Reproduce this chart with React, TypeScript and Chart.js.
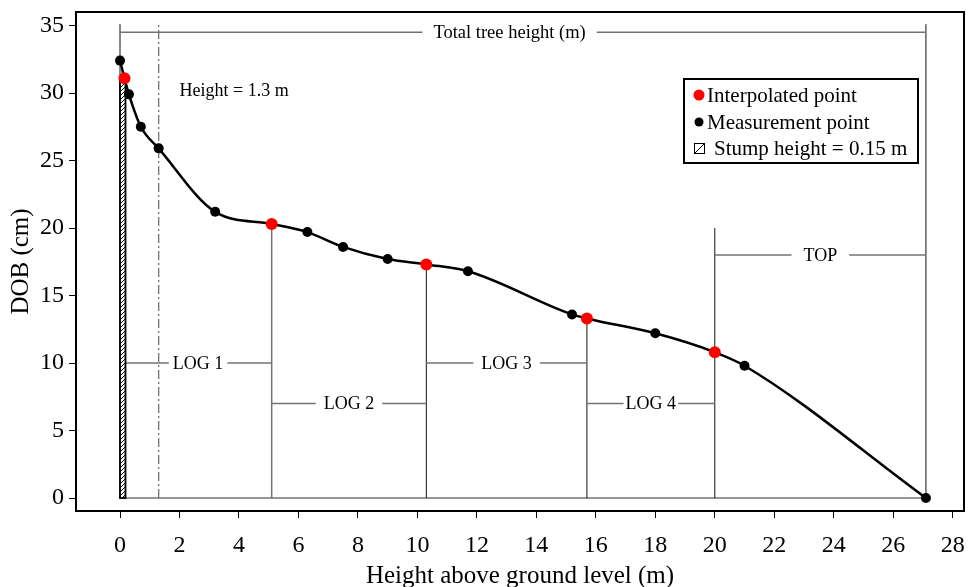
import React, { useEffect, useRef } from 'react';
import { Chart, registerables } from 'chart.js';

Chart.register(...registerables);

// Measurement points (height above ground in m, DOB in cm)
const measX = [0, 0.3, 0.7, 1.3, 3.2, 6.3, 7.5, 9.0, 11.7, 15.2, 18.0, 21.0, 27.1];
const measY = [32.4, 29.9, 27.5, 25.9, 21.2, 19.7, 18.6, 17.7, 16.8, 13.6, 12.2, 9.8, 0];
// Interpolated points
const interpX = [0.15, 5.1, 10.3, 15.7, 20.0];
const interpY = [31.1, 20.3, 17.3, 13.3, 10.8];

const xTicks = [0, 2, 4, 6, 8, 10, 12, 14, 16, 18, 20, 22, 24, 26, 28];
const yTicks = [0, 5, 10, 15, 20, 25, 30, 35];

// Log segmentation
const logBounds = [0.15, 5.1, 10.3, 15.7, 20.0, 27.1];
const logTops = [31.1, 20.3, 17.3, 13.3, 20.0, 35.1];
const logLabels = ['LOG 1', 'LOG 2', 'LOG 3', 'LOG 4', 'TOP'];
const logLabelY = [10, 7, 10, 7, 18];

const totalHeight = 27.1;
const totalLabel = 'Total tree height (m)';
const totalLabelX = 13.1;
const totalLabelY = 34.5;
const treeTop = 35.1;
const breastHeight = 1.3;
const breastLabel = 'Height = 1.3 m';
const breastLabelX = 2.0;
const breastLabelY = 30.1;
const stumpHeight = 0.15;
const stumpDob = 31.1;

const legendLabels = ['Interpolated point', 'Measurement point', 'Stump height = 0.15 m'];

const SERIF = '"Liberation Serif", "DejaVu Serif", serif';
const GRAY = '#737373';
const BLACK = '#111111';

function makeHatch(ctx: CanvasRenderingContext2D) {
  const c = document.createElement('canvas');
  c.width = 4;
  c.height = 4;
  const g = c.getContext('2d')!;
  g.fillStyle = '#ffffff';
  g.fillRect(0, 0, 4, 4);
  g.strokeStyle = '#000000';
  g.lineWidth = 1;
  g.beginPath();
  g.moveTo(0, 4);
  g.lineTo(4, 0);
  g.stroke();
  return ctx.createPattern(c, 'repeat')!;
}

const annotPlugin = {
  id: 'annot',
  beforeDatasetsDraw(chart: any) {
    const { ctx } = chart;
    const xs = chart.scales.x;
    const ys = chart.scales.y;
    const px = (v: number) => xs.getPixelForValue(v);
    const py = (v: number) => ys.getPixelForValue(v);
    const seg = (x1: number, y1: number, x2: number, y2: number, color: string, w: number, dash: number[] = []) => {
      ctx.save();
      ctx.strokeStyle = color;
      ctx.lineWidth = w;
      ctx.setLineDash(dash);
      ctx.beginPath();
      ctx.moveTo(x1, y1);
      ctx.lineTo(x2, y2);
      ctx.stroke();
      ctx.restore();
    };
    const label = (text: string, cx: number, cy: number, size: number, gap: number) => {
      ctx.save();
      ctx.font = `${size}px ${SERIF}`;
      const w = ctx.measureText(text).width;
      ctx.fillStyle = '#ffffff';
      ctx.fillRect(cx - w / 2 - gap, cy - size / 2 - 2, w + gap * 2, size + 4);
      ctx.fillStyle = '#000000';
      ctx.textAlign = 'center';
      ctx.textBaseline = 'middle';
      ctx.fillText(text, cx, cy + 1);
      ctx.restore();
    };

    // baseline
    seg(px(0), py(0), px(totalHeight), py(0), GRAY, 1.5);
    // breast height dash-dot line
    seg(px(breastHeight), py(0), px(breastHeight), py(treeTop), GRAY, 1.3, [9, 3, 2, 3]);
    // tree base and top verticals
    seg(px(0), py(0), px(0), py(treeTop), BLACK, 1);
    seg(px(totalHeight), py(0), px(totalHeight), py(treeTop), BLACK, 1);
    // total height line
    seg(px(0), py(totalLabelY), px(totalHeight), py(totalLabelY), GRAY, 1.5);
    label(totalLabel, px(totalLabelX), py(totalLabelY), 18.5, 11);

    // log verticals
    for (let i = 1; i < logBounds.length - 1; i++) {
      seg(px(logBounds[i]), py(0), px(logBounds[i]), py(logTops[i]), i === 1 ? GRAY : BLACK, i === 1 ? 1.5 : 1);
    }
    // log spans
    for (let i = 0; i < logLabels.length; i++) {
      const a = logBounds[i];
      const b = logBounds[i + 1];
      seg(px(a), py(logLabelY[i]), px(b), py(logLabelY[i]), GRAY, 1.5);
      const gap = i === 0 ? 4 : i === 4 ? 12 : i === 3 ? 2 : 8;
      label(logLabels[i], px((a + b) / 2), py(logLabelY[i]), 18, gap);
    }

    // breast height label
    ctx.save();
    ctx.font = `18px ${SERIF}`;
    ctx.fillStyle = '#000';
    ctx.textAlign = 'left';
    ctx.textBaseline = 'middle';
    ctx.fillText(breastLabel, px(breastLabelX), py(breastLabelY));
    ctx.restore();

    // stump (hatched)
    const sx1 = px(0);
    const sx2 = px(stumpHeight);
    const sy1 = py(stumpDob);
    const sy2 = py(0);
    ctx.save();
    ctx.fillStyle = makeHatch(ctx);
    ctx.fillRect(sx1, sy1, sx2 - sx1 + 1, sy2 - sy1);
    ctx.strokeStyle = '#000';
    ctx.lineWidth = 1.8;
    ctx.strokeRect(sx1, sy1, sx2 - sx1 + 1, sy2 - sy1);
    ctx.restore();
  },
  afterDraw(chart: any) {
    const { ctx, chartArea } = chart;
    ctx.save();
    // plot frame
    ctx.strokeStyle = '#000';
    ctx.lineWidth = 2;
    ctx.strokeRect(chartArea.left, chartArea.top, chartArea.right - chartArea.left, chartArea.bottom - chartArea.top);

    // legend box
    const lx = chartArea.right - 280;
    const ly = chartArea.top + 67;
    const lw = 234;
    const lh = 84;
    ctx.fillStyle = '#fff';
    ctx.fillRect(lx, ly, lw, lh);
    ctx.lineWidth = 2;
    ctx.strokeRect(lx, ly, lw, lh);
    ctx.font = `21px ${SERIF}`;
    ctx.textAlign = 'left';
    ctx.textBaseline = 'middle';
    const rows = [ly + 16, ly + 43, ly + 69];
    // red dot
    ctx.fillStyle = '#ff0000';
    ctx.beginPath();
    ctx.arc(lx + 15, rows[0], 5.5, 0, Math.PI * 2);
    ctx.fill();
    ctx.fillStyle = '#000';
    ctx.fillText(legendLabels[0], lx + 23, rows[0] + 1);
    // black dot
    ctx.beginPath();
    ctx.arc(lx + 15, rows[1], 4.5, 0, Math.PI * 2);
    ctx.fill();
    ctx.fillText(legendLabels[1], lx + 23, rows[1] + 1);
    // hatch icon
    ctx.lineWidth = 1;
    ctx.strokeRect(lx + 10.5, rows[2] - 4.5, 10, 10);
    ctx.beginPath();
    ctx.moveTo(lx + 10.5, rows[2] + 5.5);
    ctx.lineTo(lx + 20.5, rows[2] - 4.5);
    ctx.stroke();
    ctx.fillText(legendLabels[2], lx + 30, rows[2] + 1);
    ctx.restore();
  },
};

export default function App() {
  const ref = useRef<HTMLCanvasElement | null>(null);

  useEffect(() => {
    if (!ref.current) return;
    const curve = measX
      .map((x, i) => ({ x, y: measY[i] }))
      .concat(interpX.map((x, i) => ({ x, y: interpY[i] })))
      .sort((a, b) => a.x - b.x);

    const chart = new Chart(ref.current, {
      type: 'scatter',
      data: {
        datasets: [
          {
            label: 'Interpolated point',
            data: interpX.map((x, i) => ({ x, y: interpY[i] })),
            backgroundColor: '#ff0000',
            borderColor: '#ff0000',
            pointRadius: 6,
            pointBorderWidth: 0,
            order: 1,
          },
          {
            label: 'Measurement point',
            data: measX.map((x, i) => ({ x, y: measY[i] })),
            backgroundColor: '#000000',
            borderColor: '#000000',
            pointRadius: 5,
            pointBorderWidth: 0,
            order: 2,
          },
          {
            type: 'line',
            label: 'Stem profile',
            data: curve,
            showLine: true,
            borderColor: '#000000',
            borderWidth: 2.5,
            pointRadius: 0,
            cubicInterpolationMode: 'monotone',
            fill: false,
            order: 3,
          } as any,
        ],
      },
      options: {
        animation: false,
        responsive: false,
        devicePixelRatio: 1,
        layout: { autoPadding: false, padding: { top: 12, right: 4, left: 0, bottom: 0 } },
        plugins: {
          legend: { display: false },
          tooltip: { enabled: false },
        },
        scales: {
          x: {
            type: 'linear',
            min: -1.48,
            max: 28.38,
            afterBuildTicks: (s: any) => {
              s.ticks = xTicks.map((v) => ({ value: v }));
            },
            afterFit: (s: any) => {
              s.height = 76;
              s.paddingLeft = 0;
              s.paddingRight = 0;
              s.paddingTop = 0;
              s.paddingBottom = 0;
            },
            grid: { display: true, drawOnChartArea: false, drawTicks: true, tickLength: 7, color: '#000', lineWidth: 1 },
            border: { display: false },
            ticks: { color: '#000', font: { family: SERIF, size: 24 }, padding: 13, maxRotation: 0, autoSkip: false },
            title: {
              display: true,
              text: 'Height above ground level (m)',
              color: '#000',
              font: { family: SERIF, size: 25 },
              padding: { top: 0, bottom: -4 },
            },
          },
          y: {
            type: 'linear',
            min: -0.96,
            max: 36,
            afterBuildTicks: (s: any) => {
              s.ticks = yTicks.map((v) => ({ value: v }));
            },
            afterFit: (s: any) => {
              s.width = 76;
              s.paddingLeft = 0;
              s.paddingRight = 0;
              s.paddingTop = 0;
              s.paddingBottom = 0;
            },
            grid: { display: true, drawOnChartArea: false, drawTicks: true, tickLength: 7, color: '#000', lineWidth: 1 },
            border: { display: false },
            ticks: { color: '#000', font: { family: SERIF, size: 24 }, padding: 5, autoSkip: false },
            title: {
              display: true,
              text: 'DOB (cm)',
              color: '#000',
              font: { family: SERIF, size: 25 },
              padding: { top: 6, bottom: 0 },
            },
          },
        },
      },
      plugins: [annotPlugin],
    });
    return () => chart.destroy();
  }, []);

  return (
    <div style={{ position: 'fixed', left: 0, top: 0, width: 968, height: 587, background: '#fff' }}>
      <canvas ref={ref} width={968} height={587} style={{ display: 'block', width: 968, height: 587 }} />
    </div>
  );
}
